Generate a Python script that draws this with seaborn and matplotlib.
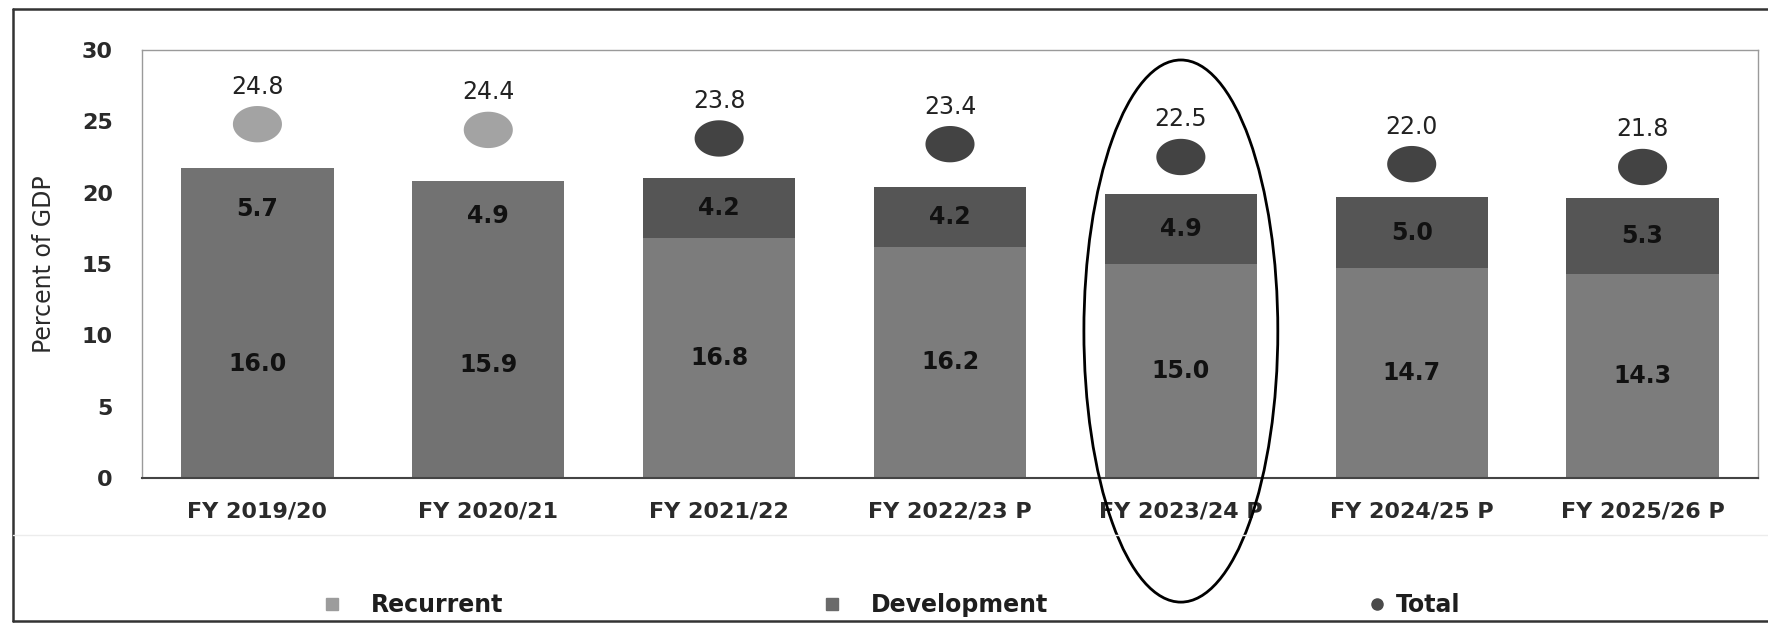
import numpy as np
import matplotlib
matplotlib.use("Agg")
import matplotlib.pyplot as plt
from matplotlib.path import Path
from matplotlib.patches import Ellipse
from matplotlib.lines import Line2D
import seaborn as sns

# Fiscal years and spending components (percent of GDP)
years = ["FY 2019/20", "FY 2020/21", "FY 2021/22", "FY 2022/23 P",
         "FY 2023/24 P", "FY 2024/25 P", "FY 2025/26 P"]
recurrent = [16.0, 15.9, 16.8, 16.2, 15.0, 14.7, 14.3]
development = [5.7, 4.9, 4.2, 4.2, 4.9, 5.0, 5.3]
total = [24.8, 24.4, 23.8, 23.4, 22.5, 22.0, 21.8]

# Shading: the two outturn years are a single tone, projections split in two
rec_colors = ["#727272", "#727272", "#7c7c7c", "#7c7c7c", "#7c7c7c", "#7c7c7c", "#7c7c7c"]
dev_colors = ["#727272", "#727272", "#555555", "#555555", "#555555", "#555555", "#555555"]
dot_colors = ["#a3a3a3", "#a3a3a3", "#434343", "#434343", "#434343", "#434343", "#434343"]

sns.set_theme(style="white")
plt.rcParams["font.family"] = ["DejaVu Sans"]

W, H = 1768, 623
fig = plt.figure(figsize=(W / 100, H / 100), dpi=100)
ax = fig.add_axes([142 / W, 145 / H, 1616 / W, 428 / H])

pos = np.arange(len(years))
stack_top = [r + d for r, d in zip(recurrent, development)]

# Stacked bars: full height in development tone, recurrent part drawn over it
sns.barplot(x=pos, y=stack_top, hue=pos, palette=dev_colors, width=0.66,
            legend=False, ax=ax, native_scale=True, saturation=1, linewidth=0)
sns.barplot(x=pos, y=recurrent, hue=pos, palette=rec_colors, width=0.66,
            legend=False, ax=ax, native_scale=True, saturation=1, linewidth=0)

# Total markers: slightly wide ovals
t = np.linspace(0, 2 * np.pi, 64)
oval = Path(np.column_stack([1.35 * np.cos(t), np.sin(t)]), closed=True)
sns.scatterplot(x=pos, y=total, hue=pos, palette=dot_colors, marker=oval,
                s=1250, linewidth=0, legend=False, ax=ax, zorder=4)

# Value labels
for i in pos:
    ax.text(i, recurrent[i] / 2, f"{recurrent[i]:.1f}", ha="center", va="center",
            fontsize=17, fontweight="bold", color="#111111")
    ax.text(i, recurrent[i] + development[i] / 2, f"{development[i]:.1f}",
            ha="center", va="center", fontsize=17, fontweight="bold", color="#111111")
    ax.annotate(f"{total[i]:.1f}", (i, total[i]), xytext=(0, 27),
                textcoords="offset points", ha="center", va="center",
                fontsize=17, color="#222222")

ax.set_xlim(-0.5, len(years) - 0.5)
ax.set_ylim(0, 30)
ax.set_yticks(range(0, 31, 5))
ax.set_xticks(pos)
ax.set_xticklabels(years)
ax.tick_params(axis="x", length=0, pad=17, labelsize=16, labelcolor="#2a2a2a")
ax.tick_params(axis="y", length=0, pad=21, labelsize=16, labelcolor="#2a2a2a")
for lab in ax.get_xticklabels() + ax.get_yticklabels():
    lab.set_fontweight("bold")

ax.set_xlabel("")
ax.set_ylabel("Percent of GDP", fontsize=17, color="#2a2a2a")
ax.yaxis.label.set_va("center")
ax.yaxis.set_label_coords((44 - 142) / 1616, 0.5)

for side in ["left", "top", "right"]:
    ax.spines[side].set_color("#9a9a9a")
    ax.spines[side].set_linewidth(1.0)
ax.spines["bottom"].set_color("#444444")
ax.spines["bottom"].set_linewidth(1.5)

# Highlight ring around the current fiscal year
ring = Ellipse((4, 10.3), 0.84, 38.0, transform=ax.transData, fill=False,
               edgecolor="black", linewidth=2, clip_on=False, zorder=6)
ax.add_patch(ring)

# Legend entries spread along the bottom
def add_key(handle, label, x_left, hlen, hpad):
    leg = fig.legend([handle], [label], loc="center left",
                     bbox_to_anchor=(x_left / W, 18 / H), frameon=False,
                     borderpad=0, borderaxespad=0, handlelength=hlen,
                     handletextpad=hpad, prop={"size": 17, "weight": "bold"})
    for txt in leg.get_texts():
        txt.set_color("#1e1e1e")

add_key(Line2D([], [], marker="s", linestyle="none", markersize=8, color="#9c9c9c"),
        "Recurrent", 320, 1.0, 1.15)
add_key(Line2D([], [], marker="s", linestyle="none", markersize=8, color="#6a6a6a"),
        "Development", 820, 1.0, 1.15)
add_key(Line2D([], [], marker="o", linestyle="none", markersize=8, color="#4a4a4a"),
        "Total", 1370, 0.6, 0.5)

# Outer frame around the figure panel
frame_kw = dict(transform=fig.transFigure, color="#333333", linewidth=1.8)
fig.add_artist(Line2D([13 / W, 13 / W], [2 / H, 1 - 8.5 / H], **frame_kw))
fig.add_artist(Line2D([13 / W, 1.0], [1 - 8.5 / H, 1 - 8.5 / H], **frame_kw))
fig.add_artist(Line2D([13 / W, 1.0], [2 / H, 2 / H], **frame_kw))
fig.add_artist(Line2D([13 / W, 1.0], [1 - 535 / H, 1 - 535 / H],
                      transform=fig.transFigure, color="#ececec", linewidth=1))

fig.savefig("out.png", dpi=100, facecolor="white")
